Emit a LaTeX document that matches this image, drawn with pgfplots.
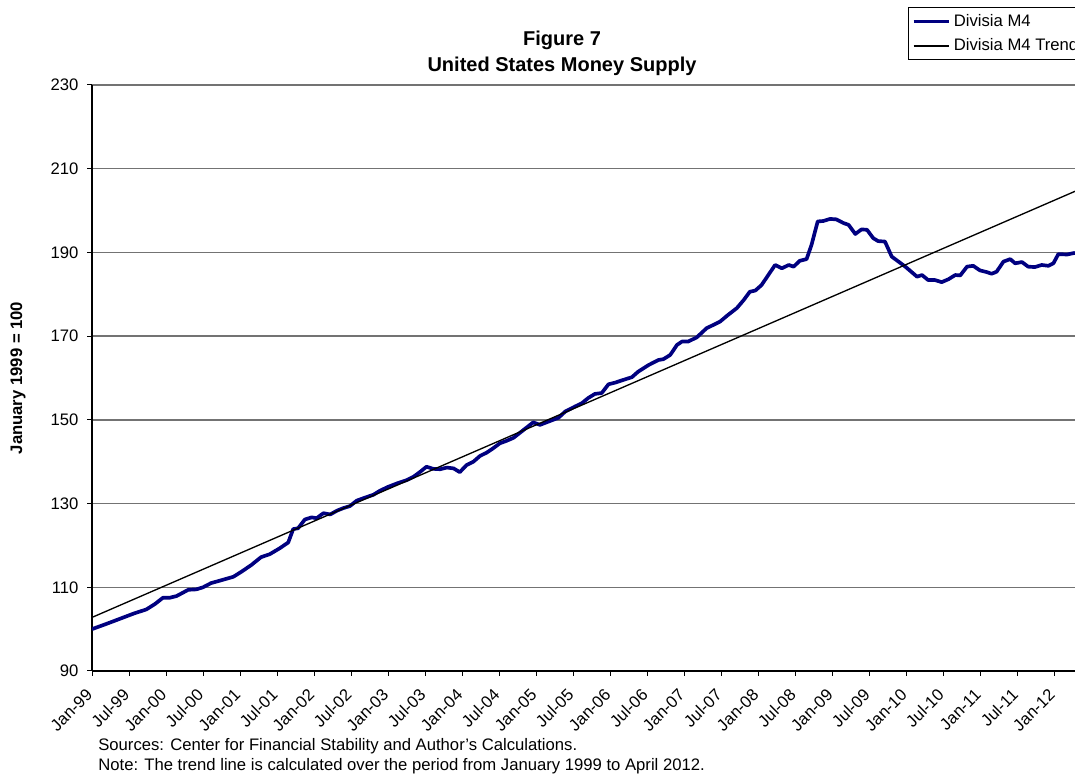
\documentclass[border=0pt]{standalone}
\usepackage{pgfplots}
\pgfplotsset{compat=1.18}
\usepackage{fontspec}
\setmainfont{Liberation Sans}
\definecolor{navyline}{RGB}{0,0,128}
\pgfplotstableread{
m v
0 100.0
2.6 101.4
4.75 102.6
6.9 103.8
8.8 104.7
10.2 106.0
11.5 107.5
12.6 107.5
13.7 107.9
15.6 109.4
16.9 109.5
18 110.0
19.3 111.0
21 111.7
22.9 112.5
24.2 113.7
25.8 115.3
27.4 117.2
28.8 117.9
30.4 119.3
31.8 120.7
32.6 123.9
33.4 124.1
34.5 126.2
35.6 126.7
36.4 126.5
37.5 127.7
38.6 127.4
39.7 128.3
40.7 128.9
41.8 129.4
42.9 130.7
44.2 131.4
45.6 132.1
46.7 133.1
48 134.0
49.4 134.8
51 135.6
52.1 136.4
53.2 137.6
54.2 138.8
55.3 138.3
56.4 138.2
57.5 138.6
58.6 138.4
59.6 137.5
60.7 139.2
61.8 140.0
62.9 141.4
64 142.2
65 143.2
66.1 144.4
67.2 145.0
68.3 145.7
69.6 147.2
71.5 149.4
72.6 148.8
74 149.6
75.6 150.5
76.7 152.0
78.3 153.2
79.4 154.0
80.4 155.2
81.5 156.2
82.6 156.4
83.7 158.5
84.8 158.9
85.8 159.4
87.5 160.2
88.5 161.5
90.2 163.1
91.8 164.3
92.6 164.5
93.7 165.5
94.8 167.9
95.6 168.7
96.6 168.7
98 169.7
99.6 171.9
101 172.9
101.8 173.5
103.1 175.1
104.5 176.7
105.6 178.6
106.6 180.6
107.5 180.9
108.5 182.2
109.6 184.6
110.7 187.0
111.8 186.2
112.9 187.0
113.7 186.6
114.7 188.0
115.8 188.4
116.6 191.8
117.6 197.4
118.5 197.5
119.6 198.0
120.6 197.9
121.8 197.0
122.6 196.6
123.7 194.4
124.7 195.5
125.6 195.4
126.6 193.4
127.4 192.7
128.5 192.6
129.6 189.0
131.8 186.6
133.7 184.2
134.5 184.6
135.5 183.4
136.6 183.4
137.7 182.9
138.8 183.6
139.9 184.6
140.7 184.5
141.8 186.6
142.8 186.8
143.9 185.7
145 185.3
145.8 184.9
146.6 185.4
147.7 187.8
148.8 188.4
149.6 187.4
150.7 187.7
151.7 186.6
152.8 186.5
153.9 187.0
155 186.8
155.8 187.4
156.6 189.6
158 189.5
159.3 189.9
}\mfour
\pgfplotstableread{
m v
0 102.8
159.3 204.6
}\trend
\begin{document}
\begin{tikzpicture}
\path[use as bounding box] (0,0) rectangle (645pt,465pt);
\begin{axis}[
  at={(55.2pt,62.4pt)}, anchor=south west,
  width=589.8pt, height=351.6pt, scale only axis,
  xmin=0, xmax=159.3, ymin=90, ymax=230,
  axis lines*=left,
  axis line style={black, line width=0.8pt},
  ytick={90,110,130,150,170,190,210,230},
  xtick={0,6,...,156},
  xticklabels={Jan-99,Jul-99,Jan-00,Jul-00,Jan-01,Jul-01,Jan-02,Jul-02,Jan-03,Jul-03,Jan-04,Jul-04,Jan-05,Jul-05,Jan-06,Jul-06,Jan-07,Jul-07,Jan-08,Jul-08,Jan-09,Jul-09,Jan-10,Jul-10,Jan-11,Jul-11,Jan-12},
  ymajorgrids,
  major grid style={black!55, line width=0.8pt},
  tick align=outside, major tick length=3pt,
  tick style={black, line width=0.6pt},
  tick label style={font=\fontsize{10}{12}\selectfont},
  /pgf/number format/assume math mode=true,
  xticklabel style={xshift=-1.5pt, yshift=-9.5pt, rotate=45, anchor=east, inner sep=0pt, font=\fontsize{10}{12}\selectfont},
  yticklabel style={inner sep=1pt, xshift=-4pt},
  legend style={at={(0.8301,1.1331)}, anchor=north west, draw=black, line width=0.6pt,
    font=\fontsize{10}{12}\selectfont, inner sep=2pt, row sep=2pt, fill=white},
  legend cell align=left,
  legend image code/.code={\draw[#1] (0pt,0pt) -- (21pt,0pt);},
]
\addplot[navyline, line width=2.2pt, line join=round] table[x=m,y=v] {\mfour};
\addlegendentry{Divisia M4}
\addplot[black, line width=0.8pt] table[x=m,y=v] {\trend};
\addlegendentry{Divisia M4 Trend}
\end{axis}
\node[font=\bfseries\fontsize{12}{14}\selectfont] at (337.2pt,441pt) {Figure 7};
\node[font=\bfseries\fontsize{12}{14}\selectfont] at (337.2pt,425.4pt) {United States Money Supply};
\node[font=\bfseries\fontsize{10}{12}\selectfont, rotate=90] at (10.8pt,238.2pt) {January 1999 = 100};
\node[font=\fontsize{10}{12}\selectfont, anchor=west, inner sep=0pt] at (58.8pt,17.4pt) {Sources: Center for Financial Stability and Author's Calculations.};
\node[font=\fontsize{10}{12}\selectfont, anchor=west, inner sep=0pt] at (58.8pt,5.4pt) {Note: The trend line is calculated over the period from January 1999 to April 2012.};
\end{tikzpicture}
\end{document}
